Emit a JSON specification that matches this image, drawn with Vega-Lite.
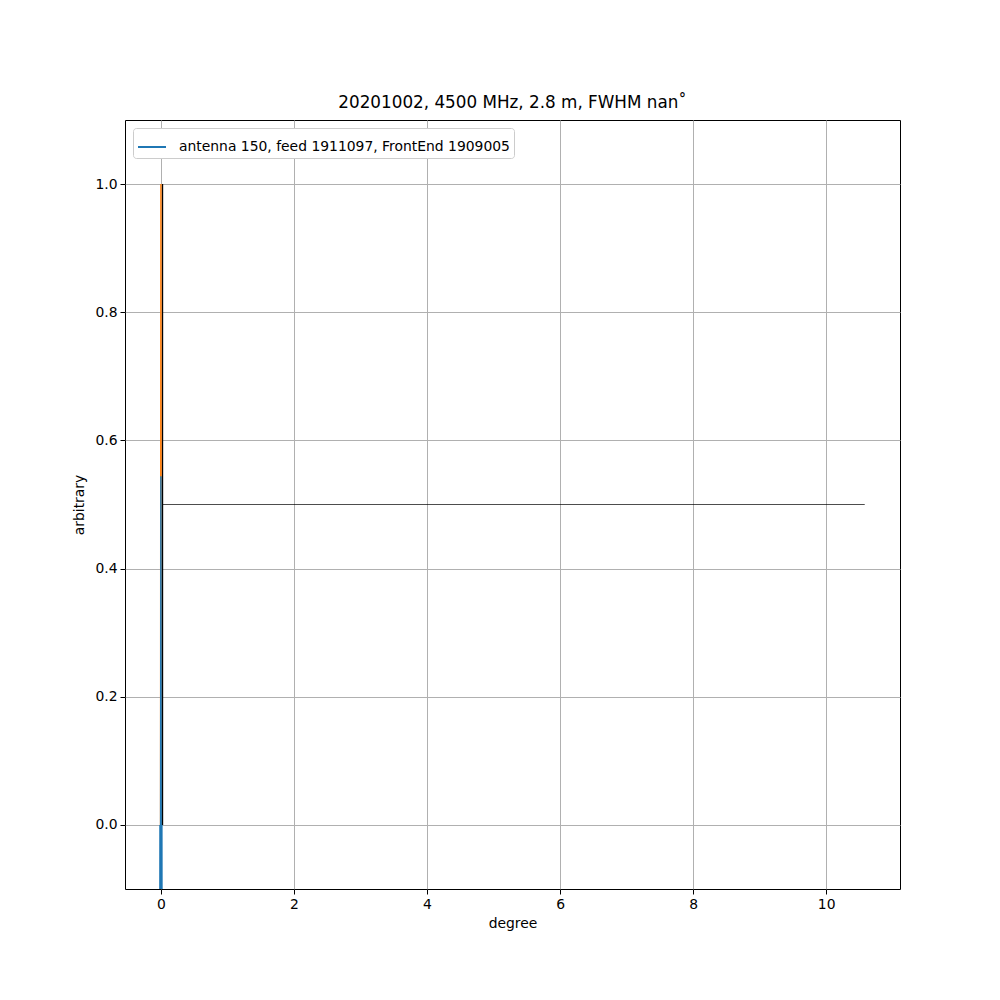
{
  "$schema": "https://vega.github.io/schema/vega-lite/v6.json",
  "width": 775,
  "height": 769,
  "autosize": {"type": "none"},
  "padding": {"left": 125, "top": 120, "right": 100, "bottom": 111},
  "background": "white",
  "title": {"text": "20201002, 4500 MHz, 2.8 m, FWHM nan˚", "font": "DejaVu Sans", "fontSize": 16.8, "fontWeight": "normal", "color": "black", "offset": 8, "anchor": "middle"},
  "config": {
    "font": "DejaVu Sans",
    "view": {"stroke": "black", "strokeWidth": 1},
    "axis": {"gridColor": "#b0b0b0", "gridWidth": 1, "gridOpacity": 1, "domain": false, "tickColor": "black", "tickSize": 5, "labelFont": "DejaVu Sans", "labelFontSize": 13.9, "labelColor": "black", "titleFont": "DejaVu Sans", "titleFontSize": 13.9, "titleFontWeight": "normal", "titleColor": "black", "labelPadding": 3}
  },
  "data": {"values": [
    {"series": "antenna 150, feed 1911097, FrontEnd 1909005", "seg": "b", "i": 0, "x": -0.02, "y": -0.5},
    {"series": "antenna 150, feed 1911097, FrontEnd 1909005", "seg": "b", "i": 1, "x": -0.014, "y": 0.0},
    {"series": "antenna 150, feed 1911097, FrontEnd 1909005", "seg": "b", "i": 2, "x": -0.008, "y": -0.5},
    {"series": "antenna 150, feed 1911097, FrontEnd 1909005", "seg": "b", "i": 3, "x": 0.0, "y": 0.544},
    {"series": "antenna 150, feed 1911097, FrontEnd 1909005", "seg": "b", "i": 4, "x": 0.008, "y": -0.5},
    {"series": "antenna 150, feed 1911097, FrontEnd 1909005", "seg": "b", "i": 5, "x": 0.014, "y": 0.0},
    {"series": "antenna 150, feed 1911097, FrontEnd 1909005", "seg": "b", "i": 6, "x": 0.02, "y": -0.5},
    {"series": "orange", "seg": "o", "i": 0, "x": -0.005, "y": 0.0},
    {"series": "orange", "seg": "o", "i": 1, "x": 0.0, "y": 1.0},
    {"series": "orange", "seg": "o", "i": 2, "x": 0.005, "y": 0.0},
    {"series": "black", "seg": "v", "i": 0, "x": 0.025, "y": 0.0},
    {"series": "black", "seg": "v", "i": 1, "x": 0.025, "y": 1.0},
    {"series": "black", "seg": "h", "i": 0, "x": 0.025, "y": 0.5},
    {"series": "black", "seg": "h", "i": 1, "x": 10.58, "y": 0.5}
  ]},
  "encoding": {
    "x": {"field": "x", "type": "quantitative", "scale": {"domain": [-0.54, 11.11], "nice": false, "zero": false}, "axis": {"values": [0, 2, 4, 6, 8, 10], "format": "d", "title": "degree", "titlePadding": 6}},
    "y": {"field": "y", "type": "quantitative", "scale": {"domain": [-0.1, 1.1], "nice": false, "zero": false}, "axis": {"values": [0.0, 0.2, 0.4, 0.6, 0.8, 1.0], "format": ".1f", "title": "arbitrary", "titlePadding": 8}},
    "order": {"field": "i", "type": "quantitative"}
  },
  "layer": [
    {
      "transform": [{"filter": "datum.seg == 'o'"}],
      "mark": {"type": "line", "clip": true, "strokeWidth": 1.5, "color": "#ff7f0e"},
      "encoding": {}
    },
    {
      "transform": [{"filter": "datum.seg == 'b'"}],
      "mark": {"type": "line", "clip": true, "strokeWidth": 1.5},
      "encoding": {
        "color": {"field": "series", "type": "nominal", "scale": {"range": ["#1f77b4"]},
          "legend": {"title": null, "orient": "top-left", "offset": 8, "labelFont": "DejaVu Sans", "labelFontSize": 13.9, "labelColor": "black", "labelLimit": 1000, "symbolType": "stroke", "symbolSize": 784, "symbolStrokeWidth": 2, "strokeColor": "#cccccc", "fillColor": "white", "padding": 4, "cornerRadius": 3, "labelOffset": 12}}
      }
    },
    {
      "transform": [{"filter": "datum.seg == 'v'"}],
      "mark": {"type": "line", "clip": true, "strokeWidth": 1.2, "color": "black"},
      "encoding": {}
    },
    {
      "transform": [{"filter": "datum.seg == 'h'"}],
      "mark": {"type": "line", "clip": true, "strokeWidth": 0.7, "color": "black"},
      "encoding": {}
    }
  ]
}
